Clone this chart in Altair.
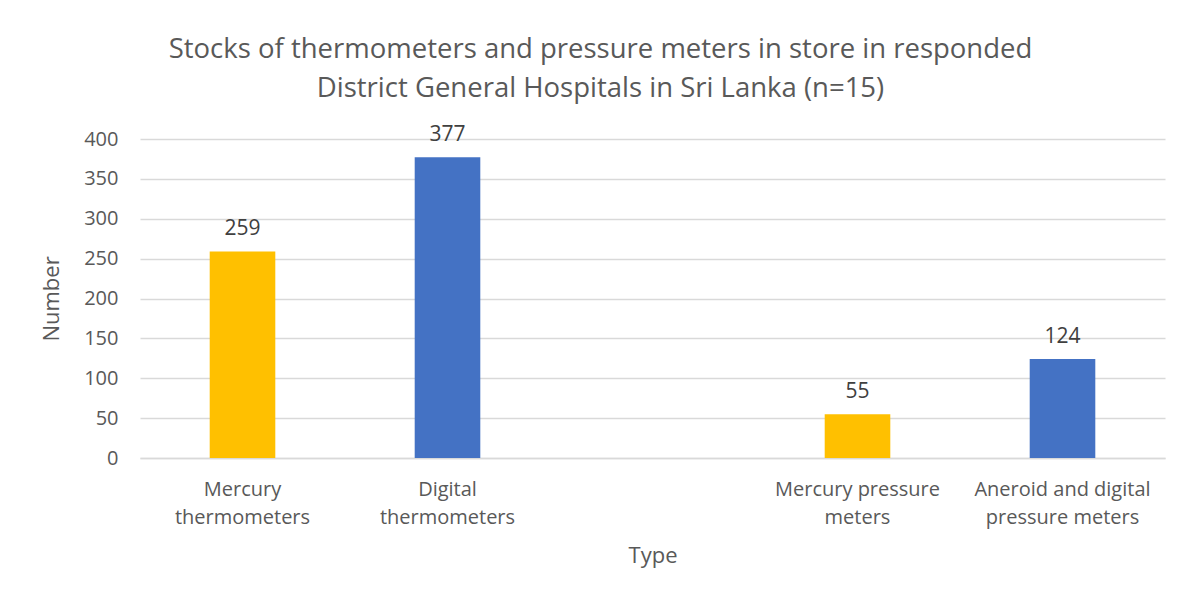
import altair as alt
import pandas as pd

categories = ["Mercury|thermometers", "Digital|thermometers", "gap", "Mercury pressure|meters", "Aneroid and digital|pressure meters"]
values = [259, 377, None, 55, 124]
colors = ["#FFC000", "#4472C4", "#FFFFFF", "#FFC000", "#4472C4"]
y_ticks = [0, 50, 100, 150, 200, 250, 300, 350, 400]

df = pd.DataFrame({"cat": categories, "val": values, "color": colors})
df_bars = df.dropna()

x_scale = alt.Scale(domain=categories, paddingInner=0.68, paddingOuter=0.34)
y_scale = alt.Scale(domain=[0, 400])

x_enc = alt.X("cat:N", scale=x_scale,
              axis=alt.Axis(title="Type", labelExpr="datum.label == 'gap' ? '' : split(datum.label, '|')",
                            labelAngle=0, labelFontSize=20, labelColor="#595959", labelPadding=21,
                            labelLineHeight=28, labelFont="Open Sans", ticks=False, grid=False,
                            domainColor="#d9d9d9", domainWidth=1.5,
                            titleFontSize=22, titleFont="Open Sans", titleColor="#595959",
                            titleFontWeight="normal", titlePadding=18))
y_enc = alt.Y("val:Q", scale=y_scale,
              axis=alt.Axis(title="Number", values=y_ticks, labelFontSize=20, labelColor="#595959",
                            labelFont="Open Sans", labelPadding=22, ticks=False, domain=False,
                            labelOverlap=False,
                            gridColor="#d9d9d9", gridWidth=1.5,
                            titleFontSize=22, titleFont="Open Sans", titleColor="#595959",
                            titleFontWeight="normal", titlePadding=20))

bars = alt.Chart(df_bars).mark_bar().encode(
    x=x_enc, y=y_enc, color=alt.Color("color:N", scale=None)
)
labels = alt.Chart(df_bars).mark_text(baseline="bottom", dy=-12, fontSize=21, font="Open Sans", color="#404040").encode(
    x=x_enc, y=y_enc, text="val:Q"
)

chart = alt.layer(bars, labels).properties(
    width=1025, height=319,
    title=alt.TitleParams(
        text=["Stocks of thermometers and pressure meters in store in  responded", "District General Hospitals in Sri Lanka (n=15)"],
        fontSize=27.5, font="Open Sans", fontWeight="normal", color="#595959", lineHeight=39,
        anchor="middle", dx=-52, offset=22),
    autosize=alt.AutoSizeParams(type="none"),
    padding={"left": 132, "top": 131, "right": 16, "bottom": 136},
).configure(background="white").configure_view(stroke="transparent")

chart.save("out.html", embed_options={"renderer": "svg", "actions": False})
